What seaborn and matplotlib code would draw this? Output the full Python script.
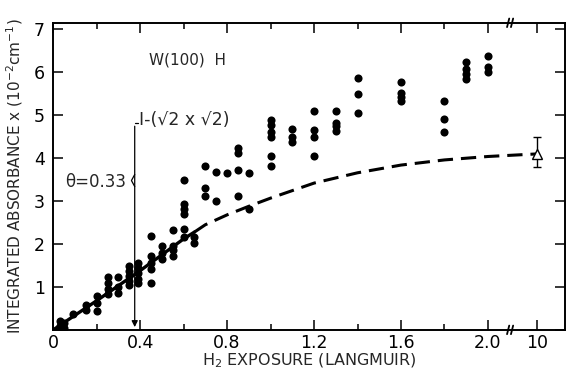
import matplotlib
matplotlib.use("Agg")
import matplotlib.pyplot as plt
import seaborn as sns
import pandas as pd

# exposure (L) -> integrated absorbance (1e-2 cm^-1); "10 L" drawn at x=2.225 past the axis break
exposure = ([0.03] * 2 + [0.05] * 2 + [0.09] + [0.15] * 2 + [0.2] * 3 + [0.25] * 4 + [0.3] * 3
            + [0.35] * 5 + [0.39] * 5 + [0.45] * 5 + [0.5] * 3 + [0.55] * 4 + [0.6] * 6
            + [0.65] * 2 + [0.7] * 3 + [0.75] * 2 + [0.8] + [0.85] * 4 + [0.9] * 2
            + [1.0] * 6 + [1.1] * 3 + [1.2] * 4 + [1.3] * 4 + [1.4] * 3 + [1.6] * 4
            + [1.8] * 3 + [1.9] * 4 + [2.0] * 3)
absorbance = [0.1, 0.2, 0.05, 0.15, 0.38, 0.57, 0.46, 0.8, 0.62, 0.44,
              1.24, 1.1, 0.96, 0.83, 1.24, 1.0, 0.87,
              1.49, 1.37, 1.25, 1.14, 1.04, 1.56, 1.45, 1.33, 1.19, 1.1,
              2.18, 1.72, 1.56, 1.41, 1.1, 1.95, 1.8, 1.64, 2.32, 1.95, 1.87, 1.72,
              3.49, 2.94, 2.82, 2.69, 2.34, 2.17, 2.17, 2.03,
              3.81, 3.3, 3.11, 3.67, 3.01, 3.65, 4.23, 4.12, 3.72, 3.13, 3.65, 2.82,
              4.89, 4.78, 4.62, 4.5, 4.06, 3.81, 4.67, 4.5, 4.37, 5.11, 4.66, 4.5, 4.06,
              5.11, 4.83, 4.74, 4.64, 5.86, 5.5, 5.06, 5.78, 5.51, 5.43, 5.33,
              5.33, 4.91, 4.62, 6.25, 6.09, 5.96, 5.84, 6.38, 6.13, 6.0]

curve_x = [0.0, 0.2, 0.4, 0.6, 0.65]
curve_y = [0.0, 0.68, 1.38, 2.12, 2.28]
dash_x = [0.65, 0.7, 0.8, 0.9, 1.0, 1.2, 1.4, 1.6, 1.8, 2.0, 2.225]
dash_y = [2.28, 2.45, 2.68, 2.88, 3.07, 3.42, 3.66, 3.84, 3.96, 4.04, 4.1]

sat_x, sat_y, sat_lo, sat_hi = 2.225, 4.1, 3.8, 4.5

xtick_pos = [0, 0.4, 0.8, 1.2, 1.6, 2.0, 2.225]
xtick_lab = ["0", "0.4", "0.8", "1.2", "1.6", "2.0", "10"]
ytick_pos = [0, 1, 2, 3, 4, 5, 6, 7]
ytick_lab = ["", "1", "2", "3", "4", "5", "6", "7"]

sns.set_theme(style="ticks")
plt.rcParams["font.family"] = ["DejaVu Sans"]

fig = plt.figure(figsize=(5.66, 3.74), dpi=100)
ax = fig.add_axes([0.094, 0.118, 0.904, 0.821])

df = pd.DataFrame({"x": exposure, "y": absorbance})
sns.scatterplot(data=df, x="x", y="y", ax=ax, s=34, color="black", edgecolor="black",
                linewidth=0, zorder=3, legend=False)
sns.lineplot(x=curve_x, y=curve_y, ax=ax, color="black", lw=2.4, zorder=2)
sns.lineplot(x=dash_x, y=dash_y, ax=ax, color="black", lw=2.2, zorder=2,
             linestyle=(0, (5, 2.6)))
ax.errorbar([sat_x], [sat_y], yerr=[[sat_y - sat_lo], [sat_hi - sat_y]], fmt="^",
            mfc="white", mec="black", ecolor="black", ms=7, capsize=3, lw=1, zorder=4)

ax.set_xlim(0, 2.354)
ax.set_ylim(0, 7.155)
ax.set_xticks(xtick_pos)
ax.set_xticklabels(xtick_lab)
ax.set_xticks([0.2, 0.6, 1.0, 1.4, 1.8], minor=True)
ax.set_yticks(ytick_pos)
ax.set_yticklabels(ytick_lab)
ax.tick_params(which="both", direction="in", top=True, right=True, width=1.1,
               labelsize=12.5, colors="black")
ax.tick_params(axis="x", pad=3)
ax.tick_params(axis="y", pad=6)
ax.tick_params(which="major", length=7)
ax.tick_params(which="minor", length=4)
for s in ax.spines.values():
    s.set_linewidth(1.4)
    s.set_color("black")

ax.set_xlabel("H$_2$ EXPOSURE (LANGMUIR)", fontsize=11.5, labelpad=0)
ax.set_ylabel("INTEGRATED ABSORBANCE x (10$^{-2}$cm$^{-1}$)", fontsize=11, labelpad=6)

# axis break marks
for yy in (0, 7.155):
    for dx in (-0.012, 0.006):
        ax.plot([2.1 + dx, 2.11 + dx], [yy - 0.1, yy + 0.1], color="black", lw=1.3,
                clip_on=False, zorder=5)

# annotation: coverage marker
ax.annotate("", xy=(0.375, 0.0), xytext=(0.375, 4.81),
            arrowprops=dict(arrowstyle="-|>", color="black", lw=0.9, mutation_scale=9))
ax.plot([0.375, 0.39], [4.81, 4.81], color="black", lw=0.9)
ax.plot([0.375, 0.36, 0.375], [3.62, 3.48, 3.34], color="black", lw=0.9)
ax.text(0.395, 4.9, "I-(\u221a2 x \u221a2)", fontsize=12.5, va="center", ha="left")
ax.text(0.335, 3.44, "\u03b8=0.33", fontsize=12, va="center", ha="right")
ax.text(0.44, 6.28, "W(100)  H", fontsize=11, va="center", ha="left")

fig.savefig("out.png", dpi=100)
